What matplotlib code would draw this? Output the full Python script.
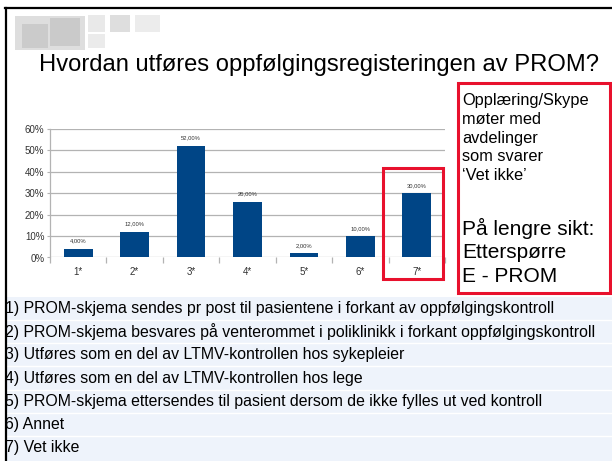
import matplotlib
matplotlib.use("Agg")
import matplotlib.pyplot as plt
from matplotlib.patches import Rectangle
from matplotlib.lines import Line2D

plt.rcParams['font.family'] = ['Liberation Sans', 'DejaVu Sans']

# ---- data ----
categories = ["1*", "2*", "3*", "4*", "5*", "6*", "7*"]
values = [4, 12, 52, 26, 2, 10, 30]
value_labels = ["4,00%", "12,00%", "52,00%", "26,00%", "2,00%", "10,00%", "30,00%"]
y_ticks = [0, 10, 20, 30, 40, 50, 60]
y_tick_labels = ["0%", "10%", "20%", "30%", "40%", "50%", "60%"]
title = "Hvordan utføres oppfølgingsregisteringen av PROM?"
note_small = ["Opplæring/Skype", "møter med", "avdelinger", "som svarer", "\u2018Vet ikke\u2019"]
note_big = ["På lengre sikt:", "Etterspørre", "E - PROM"]
legend_items = [
    "1) PROM-skjema sendes pr post til pasientene i forkant av oppfølgingskontroll",
    "2) PROM-skjema besvares på venterommet i poliklinikk i forkant oppfølgingskontroll",
    "3) Utføres som en del av LTMV-kontrollen hos sykepleier",
    "4) Utføres som en del av LTMV-kontrollen hos lege",
    "5) PROM-skjema ettersendes til pasient dersom de ikke fylles ut ved kontroll",
    "6) Annet",
    "7) Vet ikke",
]

W, H = 612, 461
fig = plt.figure(figsize=(W / 100, H / 100), dpi=100)
fig.patch.set_facecolor("white")


def fx(x):
    return x / W


def fy(y):
    return 1 - y / H


def rect(x0, y0, x1, y1, **kw):
    r = Rectangle((fx(x0), fy(y1)), fx(x1) - fx(x0), fy(y0) - fy(y1),
                  transform=fig.transFigure, **kw)
    fig.add_artist(r)
    return r


# ---- legend background rows ----
row_top = 296.5
row_h = 23.3
rect(6, row_top, W, H, facecolor="#eef3fb", edgecolor="none", zorder=0)
for i in range(1, len(legend_items)):
    yy = row_top + i * row_h
    fig.add_artist(Line2D([fx(6), 1], [fy(yy), fy(yy)], transform=fig.transFigure,
                          color="white", lw=1.0, zorder=1))
for i, t in enumerate(legend_items):
    fig.text(fx(5), fy(row_top + row_h * (i + 0.5)), t, fontsize=11.4,
             ha="left", va="center", color="black", zorder=2)

# ---- logo-like decoration ----
rect(15, 16, 85, 50, facecolor="#dedede", edgecolor="none")
rect(22, 24, 48, 48, facecolor="#c4c4c4", edgecolor="none", alpha=0.7)
rect(50, 18, 80, 46, facecolor="#bdbdbd", edgecolor="none", alpha=0.6)
rect(88, 15, 105, 32, facecolor="#e9e9e9", edgecolor="none")
rect(110, 15, 130, 32, facecolor="#dedede", edgecolor="none")
rect(135, 15, 160, 32, facecolor="#ececec", edgecolor="none")
rect(88, 34, 105, 48, facecolor="#ebebeb", edgecolor="none")

# ---- frame ----
fig.add_artist(Line2D([fx(5), 1], [fy(8), fy(8)], transform=fig.transFigure,
                      color="black", lw=1.6, zorder=5))
fig.add_artist(Line2D([fx(6), fx(6)], [fy(8), 0], transform=fig.transFigure,
                      color="black", lw=1.6, zorder=5))

# ---- title ----
fig.text(fx(319), fy(65), title, fontsize=17.1, ha="center", va="center", color="black")

# ---- chart ----
ax_l, ax_r, ax_t, ax_b = 50, 445, 128.6, 257.5
ax = fig.add_axes([fx(ax_l), fy(ax_b), fx(ax_r) - fx(ax_l), fy(ax_t) - fy(ax_b)])
ax.set_facecolor("none")
x = [i + 0.5 for i in range(len(categories))]
bars = ax.bar(x, values, width=0.51, color="#004586", zorder=3)
ax.set_xlim(0, len(categories))
ax.set_ylim(0, 60)
ax.set_yticks(y_ticks)
ax.set_yticklabels(y_tick_labels)
ax.yaxis.grid(True, color="#b3b3b3", lw=0.9, zorder=0)
ax.set_axisbelow(True)
for s in ["top", "right", "bottom"]:
    ax.spines[s].set_visible(False)
ax.spines["left"].set_color("#b3b3b3")
ax.spines["left"].set_linewidth(0.9)
ax.tick_params(axis="y", length=2.5, color="#b3b3b3", labelsize=7, labelcolor="#333333", pad=1.5)
ax.set_xticks(range(len(categories) + 1))
ax.set_xticklabels([])
ax.set_xticks(x, minor=True)
ax.set_xticklabels(categories, minor=True)
ax.tick_params(axis="x", which="major", length=4, color="#b3b3b3", width=0.9)
ax.tick_params(axis="x", which="minor", length=0, labelsize=7, labelcolor="#333333", pad=7)
for xi, v, lab in zip(x, values, value_labels):
    ax.annotate(lab, (xi, v), xytext=(0, 5.5), textcoords="offset points",
                ha="center", va="center", fontsize=4.2, color="#333333")

# ---- red highlight boxes ----
red = "#e8112d"
rect(383, 168, 443, 279, facecolor="none", edgecolor=red, lw=2.2, zorder=6)
rect(457.5, 83, 610, 293, facecolor="white", edgecolor=red, lw=2.2, zorder=6)
for t, yy in zip(note_small, [101, 119.5, 138, 156.5, 175]):
    fig.text(fx(462), fy(yy), t, fontsize=11.8, ha="left", va="center", color="black", zorder=7)
for t, yy in zip(note_big, [228, 252, 276]):
    fig.text(fx(462), fy(yy), t, fontsize=15, ha="left", va="center", color="black", zorder=7)

fig.savefig("out.png", dpi=100, facecolor="white")
